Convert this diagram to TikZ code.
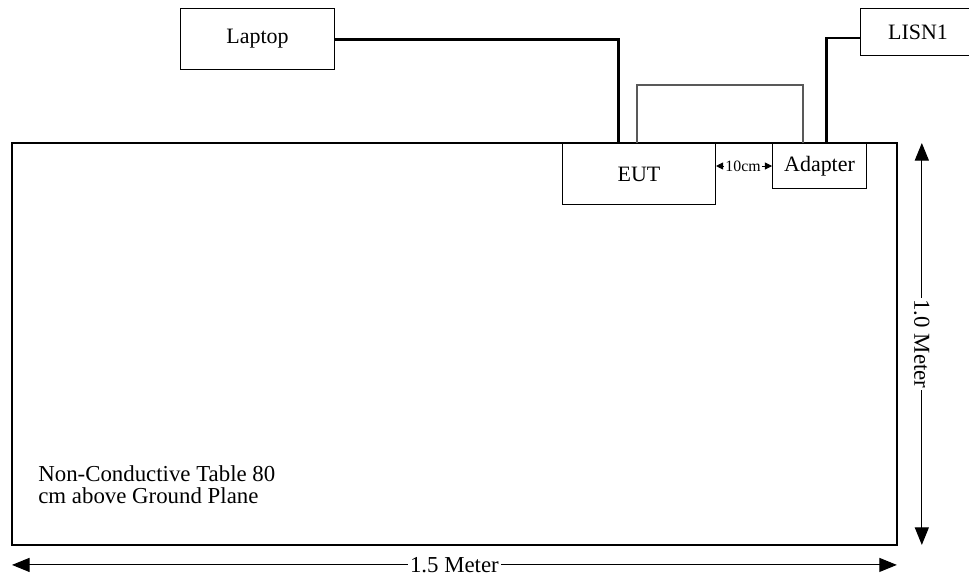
\documentclass[tikz,border=0pt]{standalone}
\usepackage{fontspec}
\setmainfont{Liberation Serif}
\usetikzlibrary{
    arrows.meta,
    positioning,
    calc
}
\tikzstyle{box} = [
    draw=black,
    line width=0.6pt,
    anchor=north west,
    inner sep=0pt,
    font=\fontsize{12.5}{14}\selectfont
]
\tikzstyle{cable} = [
    line width=1.7pt
]
\tikzstyle{thinloop} = [
    draw=gray!70!black,
    line width=0.6pt
]
\tikzstyle{dimline} = [
    {Triangle[length=10pt,width=8pt]}-{Triangle[length=10pt,width=8pt]},
    line width=0.6pt
]
\tikzstyle{gaparrow} = [
    -{Triangle[length=4pt,width=4pt]},
    line width=0.5pt
]

\begin{document}
\begin{tikzpicture}[x=0.02cm, y=-0.02cm]
        \useasboundingbox (0,0) rectangle (969,575);

        % Non-conductive table (top view)
        \node[draw, line width=1.5pt, anchor=north west, inner sep=0pt, outer sep=0pt,
              minimum width=17.7cm, minimum height=8.04cm] (table) at (12,143) {};

        % Equipment boxes
        \node[box, minimum width=3.08cm, minimum height=1.22cm] (laptop) at (180,8) {Laptop};
        \node[box, minimum width=3.06cm, minimum height=1.22cm] (eut) at (562,143) {EUT};
        \node[box, minimum width=1.88cm, minimum height=0.9cm] (adapter) at (772,143) {Adapter};
        \node[box, minimum width=2.3cm, minimum height=0.94cm] (lisn) at (860,8) {LISN1};

        % Cables
        \coordinate (eutIn) at (618,143);
        \coordinate (adpIn) at (826,143);
        \coordinate (lisnIn) at (860,38);
        \draw[cable] (laptop.east) -| (eutIn);
        \draw[cable] (lisnIn) -| (adpIn);

        % EUT - adapter lead (thin)
        \coordinate (loopA) at (637,143);
        \coordinate (loopB) at (803,143);
        \draw[thinloop] (loopA) -- ++(0,-58) -| (loopB);

        % 10 cm spacing
        \node[font=\fontsize{9}{10}\selectfont, inner sep=0.5pt] (gap) at (743,166) {10cm};
        \draw[gaparrow] (gap) -- (eut.east |- gap);
        \draw[gaparrow] (gap) -- (adapter.west |- gap);

        % Table note
        \node[anchor=north west, align=left, inner sep=0pt, font=\fontsize{13}{12.5}\selectfont]
            (note) at (38,465) {Non-Conductive Table 80\\cm above Ground Plane};

        % Dimensions
        \draw[dimline] ($(table.south west)+(0,20)$) -- ($(table.south east)+(0,20)$)
            node[midway, fill=white, inner sep=1pt, font=\fontsize{13}{14}\selectfont] (wlabel) {1.5 Meter};
        \draw[dimline] ($(table.north east)+(25,0)$) -- ($(table.south east)+(25,0)$)
            node[midway, fill=white, inner sep=1pt, rotate=-90, font=\fontsize{13}{14}\selectfont] (hlabel) {1.0 Meter};
    \end{tikzpicture}
\end{document}
